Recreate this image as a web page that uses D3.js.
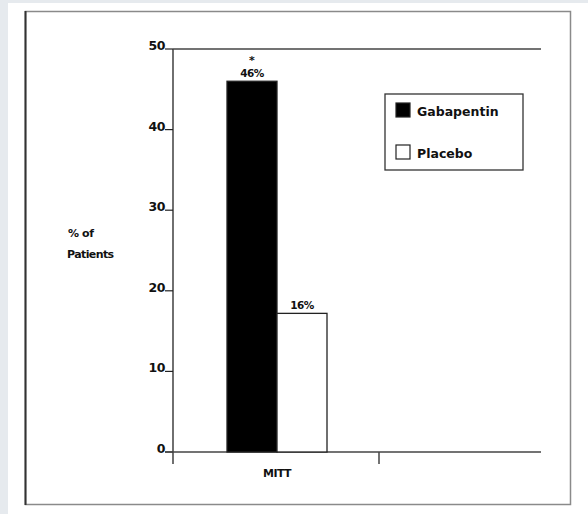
<!DOCTYPE html>
<html>
<head>
<meta charset="utf-8">
<script src="https://cdn.jsdelivr.net/npm/d3@7"></script>
<style>
  body { margin: 0; background: #fff; }
  svg { display: block; font-family: 'DejaVu Sans', Verdana, sans-serif; font-weight: bold; }
</style>
</head>
<body>
<svg id="chart" width="588" height="514"></svg>
<script>
// data
const categories = ['MITT'];
const seriesNames = ['Gabapentin', 'Placebo'];
const seriesValues = [46, 17.2];
const valueLabels = ['46%', '16%'];
const significance = ['*', ''];
const yTicks = [0, 10, 20, 30, 40, 50];
const seriesFill = ['#000', '#fff'];

const svg = d3.select('#chart');

// page background strips and frame
svg.append('rect').attr('width', 588).attr('height', 514).attr('fill', '#fff');
svg.append('rect').attr('width', 588).attr('height', 3).attr('fill', '#e6eaee');
svg.append('rect').attr('width', 8).attr('height', 514).attr('fill', '#e6eaee');
svg.append('rect')
  .attr('x', 25.5).attr('y', 11.5).attr('width', 545).attr('height', 493)
  .attr('fill', '#fff').attr('stroke', '#8a8a8a').attr('stroke-width', 1.5);
svg.append('line').attr('x1', 25.5).attr('x2', 25.5).attr('y1', 11).attr('y2', 505)
  .attr('stroke', '#333').attr('stroke-width', 2);

const plotLeft = 173, plotRight = 541;
const y = d3.scaleLinear().domain([0, 50]).range([452, 49]);
const x = d3.scaleBand().domain(categories).range([plotLeft, 379]);
const xs = d3.scaleBand().domain(seriesNames).range([54, 154]);

// y axis
const yAxis = svg.append('g');
yAxis.append('line')
  .attr('x1', plotLeft).attr('x2', plotLeft)
  .attr('y1', y(50)).attr('y2', y(0) + 12)
  .attr('stroke', '#222').attr('stroke-width', 1.3);
const tick = yAxis.selectAll('g.tick').data(yTicks).join('g').attr('class', 'tick');
tick.append('line')
  .attr('x1', plotLeft - 8).attr('x2', plotLeft)
  .attr('y1', d => y(d)).attr('y2', d => y(d))
  .attr('stroke', '#222').attr('stroke-width', 1.2);
tick.append('text')
  .attr('x', plotLeft - 8).attr('y', d => y(d) + 1)
  .attr('text-anchor', 'end').attr('font-size', 12.5).attr('fill', '#111')
  .attr('letter-spacing', -0.5)
  .text(d => d);

// top reference line at 50
svg.append('line')
  .attr('x1', plotLeft).attr('x2', plotRight)
  .attr('y1', y(50)).attr('y2', y(50))
  .attr('stroke', '#444').attr('stroke-width', 1.5);

// baseline
svg.append('line')
  .attr('x1', plotLeft - 8).attr('x2', plotRight)
  .attr('y1', y(0)).attr('y2', y(0))
  .attr('stroke', '#444').attr('stroke-width', 1.5);
svg.append('line')
  .attr('x1', x.range()[1]).attr('x2', x.range()[1])
  .attr('y1', y(0)).attr('y2', y(0) + 12)
  .attr('stroke', '#444').attr('stroke-width', 1.5);

// y title
svg.append('text').attr('x', 68).attr('y', 237)
  .attr('font-size', 11).attr('fill', '#111').attr('letter-spacing', -0.4).text('% of');
svg.append('text').attr('x', 67).attr('y', 258)
  .attr('font-size', 11).attr('fill', '#111').attr('letter-spacing', -0.6).text('Patients');

// bars
const grp = svg.selectAll('g.cat').data(categories).join('g')
  .attr('class', 'cat')
  .attr('transform', d => `translate(${x(d)},0)`);
grp.selectAll('rect').data(seriesNames).join('rect')
  .attr('x', d => xs(d))
  .attr('y', (d, i) => y(seriesValues[i]))
  .attr('width', xs.bandwidth())
  .attr('height', (d, i) => y(0) - y(seriesValues[i]))
  .attr('fill', (d, i) => seriesFill[i])
  .attr('stroke', '#222').attr('stroke-width', 1.3);
grp.selectAll('text.val').data(seriesNames).join('text')
  .attr('class', 'val')
  .attr('x', d => xs(d) + xs.bandwidth() / 2)
  .attr('y', (d, i) => y(seriesValues[i]) - 4)
  .attr('text-anchor', 'middle').attr('font-size', 10.5).attr('fill', '#111')
  .attr('letter-spacing', -0.5)
  .text((d, i) => valueLabels[i]);
grp.selectAll('text.sig').data(seriesNames).join('text')
  .attr('class', 'sig')
  .attr('x', d => xs(d) + xs.bandwidth() / 2)
  .attr('y', (d, i) => y(seriesValues[i]) - 17)
  .attr('text-anchor', 'middle').attr('font-size', 11).attr('fill', '#111')
  .text((d, i) => significance[i]);

// category label
svg.selectAll('text.cat').data(categories).join('text')
  .attr('class', 'cat')
  .attr('x', d => x(d) + x.bandwidth() / 2 + 1)
  .attr('y', 477)
  .attr('text-anchor', 'middle').attr('font-size', 11).attr('fill', '#111')
  .attr('letter-spacing', -0.6)
  .text(d => d);

// legend
const legend = svg.append('g').attr('transform', 'translate(385,94)');
legend.append('rect').attr('width', 138).attr('height', 76)
  .attr('fill', '#fff').attr('stroke', '#333').attr('stroke-width', 1.3);
const li = legend.selectAll('g.item').data(seriesNames).join('g')
  .attr('class', 'item')
  .attr('transform', (d, i) => `translate(11,${9 + i * 42})`);
li.append('rect').attr('width', 14).attr('height', 14)
  .attr('fill', (d, i) => seriesFill[i]).attr('stroke', '#222').attr('stroke-width', 1.2);
li.append('text').attr('x', 21).attr('y', 13)
  .attr('font-size', 12.5).attr('fill', '#111')
  .text(d => d);
</script>
</body>
</html>
